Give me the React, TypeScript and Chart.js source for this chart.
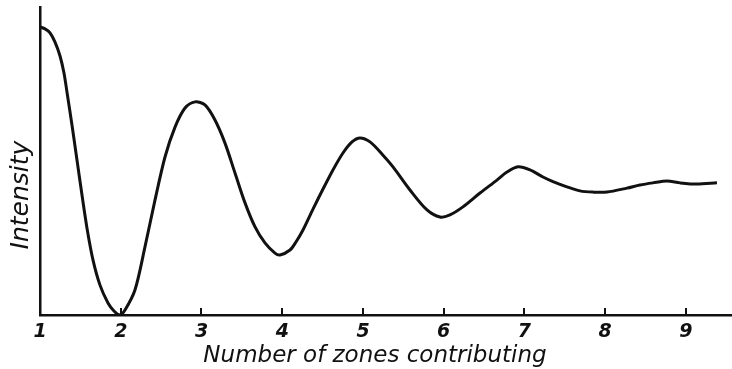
import { useEffect, useRef } from "react";
import { Chart, registerables } from "chart.js";

Chart.register(...registerables);

// Number of zones contributing (x) and relative intensity (y, 0-100)
const zones = [
  1.0, 1.062, 1.124, 1.186, 1.248, 1.297, 1.334, 1.396, 1.458, 1.52,
  1.582, 1.656, 1.743, 1.842, 1.916, 1.99, 2.053, 2.176, 2.3, 2.424,
  2.548, 2.672, 2.796, 2.92, 3.043, 3.167, 3.291, 3.415, 3.539, 3.663,
  3.786, 3.91, 3.972, 4.096, 4.17, 4.257, 4.381, 4.505, 4.628, 4.752,
  4.864, 4.963, 5.087, 5.248, 5.372, 5.582, 5.793, 5.954, 6.077, 6.238,
  6.449, 6.659, 6.783, 6.92, 7.068, 7.229, 7.353, 7.526, 7.687, 7.848,
  8.022, 8.269, 8.43, 8.591, 8.765, 8.926, 9.136, 9.384,
];
const intensity = [
  93.5, 92.9, 91.6, 88.6, 84.1, 78.6, 72.4, 61.7, 50.3, 38.96,
  28.2, 17.9, 9.7, 3.9, 1.3, 0.0, 1.6, 8.1, 22.1, 37.3,
  51.3, 61.0, 67.2, 69.2, 68.2, 63.3, 55.8, 46.1, 36.4, 28.6,
  23.4, 20.1, 19.5, 21.1, 23.7, 27.6, 34.4, 40.9, 47.1, 52.6,
  56.2, 57.5, 56.2, 51.9, 48.1, 40.6, 34.1, 31.8, 32.5, 35.1,
  39.6, 43.8, 46.4, 48.1, 47.1, 44.8, 43.3, 41.6, 40.3, 39.9,
  39.9, 41.2, 42.2, 42.9, 43.5, 42.9, 42.5, 42.9,
];
const xTicks = [1, 2, 3, 4, 5, 6, 7, 8, 9];
const xTitle = "Number of zones contributing";
const yTitle = "Intensity";

const INK = "#111111";
const FAMILY = "'DejaVu Sans', sans-serif";

const decorPlugin = {
  id: "handDecor",
  afterDraw(chart: any) {
    const { ctx, chartArea } = chart;
    const xs = chart.scales.x;
    ctx.save();
    // inward tick marks on the x axis
    ctx.strokeStyle = INK;
    ctx.lineWidth = 2;
    xTicks.forEach((v) => {
      const px = Math.round(xs.getPixelForValue(v));
      ctx.beginPath();
      ctx.moveTo(px, chartArea.bottom);
      ctx.lineTo(px, chartArea.bottom - 7);
      ctx.stroke();
    });
    // titles
    ctx.fillStyle = INK;
    ctx.textAlign = "center";
    ctx.textBaseline = "alphabetic";
    ctx.font = `italic 23px ${FAMILY}`;
    ctx.fillText(xTitle, chartArea.left + 335, chart.height - 7);
    ctx.font = `italic 25px ${FAMILY}`;
    ctx.translate(28, chartArea.top + 188);
    ctx.rotate(-Math.PI / 2);
    ctx.fillText(yTitle, 0, 0);
    ctx.restore();
  },
};

export default function App() {
  const ref = useRef<HTMLCanvasElement | null>(null);

  useEffect(() => {
    if (!ref.current) return;
    const chart = new Chart(ref.current, {
      type: "line",
      data: {
        datasets: [
          {
            data: zones.map((z, i) => ({ x: z, y: intensity[i] })),
            borderColor: INK,
            borderWidth: 3,
            pointRadius: 0,
            tension: 0.3,
            fill: false,
          },
        ],
      },
      options: {
        animation: false,
        responsive: true,
        maintainAspectRatio: false,
        layout: { padding: { top: 7, right: 0, left: 0, bottom: 0 } },
        plugins: { legend: { display: false }, tooltip: { enabled: false } },
        scales: {
          x: {
            type: "linear",
            min: 1,
            max: 9.57,
            afterBuildTicks: (s: any) => {
              s.ticks = xTicks.map((v) => ({ value: v }));
            },
            afterFit: (s: any) => {
              s.height = 54;
            },
            grid: { display: false, drawTicks: false },
            border: { display: true, color: INK, width: 2.5 },
            ticks: {
              color: INK,
              padding: 6,
              font: { family: FAMILY, size: 19, style: "italic", weight: "bold" },
              maxRotation: 0,
              autoSkip: false,
            },
          },
          y: {
            type: "linear",
            min: 0,
            max: 100,
            afterFit: (s: any) => {
              s.width = 40;
            },
            grid: { display: false },
            border: { display: true, color: INK, width: 2.5 },
            ticks: { display: false },
          },
        },
      },
      plugins: [decorPlugin],
    } as any);
    return () => chart.destroy();
  }, []);

  return (
    <div style={{ position: "fixed", left: 0, top: 0, width: 732, height: 369, background: "#fff" }}>
      <canvas ref={ref} />
    </div>
  );
}
